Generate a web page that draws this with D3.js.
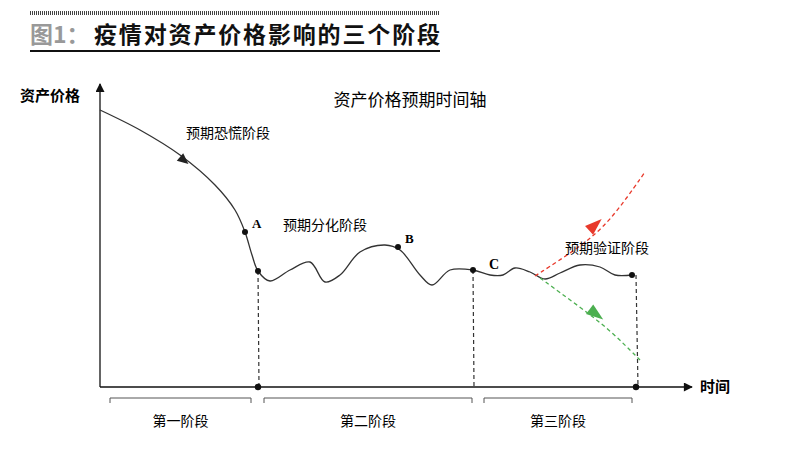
<!DOCTYPE html>
<html><head><meta charset="utf-8">
<script src="https://cdn.jsdelivr.net/npm/d3@7"></script>
<style>body{margin:0;background:#fff}text{font-family:"Noto Sans CJK SC",sans-serif}</style>
</head><body>
<svg id="chart" width="800" height="454"></svg>
<script>
// time (x) and price (y) in arbitrary units
const priceCurve = [[0,277],[40,257],[80,232],[115,202],[135,177],[145,155],[152,132],[158,116],[170,106],[190,117],[210,125],[225,105],[240,112],[260,135],[285,142],[300,137],[320,112],[332,102],[350,117],[373,117],[390,112],[403,112],[415,119],[430,115],[445,108],[460,114],[480,122],[500,120],[515,112],[532,112]];
const keyPoints = [[145,155,"A"],[158,116,""],[298,140,"B"],[373,117,""],[532,112,""]];
const redPath = [[435,111],[480,140],[510,165],[545,215]];
const greenPath = [[440,109],[480,80],[510,57],[540,27]];
const stages = [["第一阶段",10,151],["第二阶段",164,372],["第三阶段",384,532]];
const dividers = [[158,116],[373,117],[536,112]];
const phaseLabels = [["预期恐慌阶段",86,249],["预期分化阶段",183,157],["预期验证阶段",465,134]];

const svg = d3.select("#chart");
const x = d3.scaleLinear().domain([0,590]).range([100,690]);
const y = d3.scaleLinear().domain([0,300]).range([387,87]);

// title
svg.append("line").attr("x1",30).attr("x2",440).attr("y1",13).attr("y2",13)
  .attr("stroke","#444").attr("stroke-width",4).attr("stroke-dasharray","1,1");
svg.append("text").attr("x",30).attr("y",43).style("font-size","23px").style("font-weight","bold")
  .attr("fill","#999").text("图1：");
svg.append("text").attr("x",94).attr("y",43).attr("textLength",346).style("font-size","23px").style("font-weight","bold")
  .attr("fill","#111").text("疫情对资产价格影响的三个阶段");
svg.append("line").attr("x1",30).attr("x2",440).attr("y1",51).attr("y2",51).attr("stroke","#111").attr("stroke-width",2);

const defs = svg.append("defs");
function marker(id, color, w, h) {
  defs.append("marker").attr("id",id).attr("viewBox","0 0 10 10").attr("refX",9).attr("refY",5)
    .attr("markerWidth",w).attr("markerHeight",h).attr("orient","auto").attr("markerUnits","userSpaceOnUse")
    .append("path").attr("d","M0,0L10,5L0,10z").attr("fill",color);
}
marker("ax","#111",12,9);

// axes
svg.append("line").attr("x1",x(0)).attr("x2",x(0)).attr("y1",y(0)).attr("y2",y(303))
  .attr("stroke","#111").attr("stroke-width",1.3).attr("marker-end","url(#ax)");
svg.append("line").attr("x1",x(0)).attr("x2",x(592)).attr("y1",y(0)).attr("y2",y(0))
  .attr("stroke","#111").attr("stroke-width",1.3).attr("marker-end","url(#ax)");
svg.append("text").attr("x",20).attr("y",101).style("font-size","15px").style("font-weight","bold").text("资产价格");
svg.append("text").attr("x",700).attr("y",392).style("font-size","15px").style("font-weight","bold").text("时间");
svg.append("text").attr("x",410).attr("y",106).attr("text-anchor","middle").style("font-size","17px").text("资产价格预期时间轴");

// dashed dividers
dividers.forEach(d => {
  svg.append("line").attr("x1",x(d[0])).attr("x2",x(d[0]+ (d[0]>500?2:1))).attr("y1",y(d[1])).attr("y2",y(0))
    .attr("stroke","#333").attr("stroke-width",1.2).attr("stroke-dasharray","4,3");
});
[[158,0],[536,0]].forEach(d => svg.append("circle").attr("cx",x(d[0])).attr("cy",y(d[1])).attr("r",3.2).attr("fill","#111"));

// main curve
const line = d3.line().x(d => x(d[0])).y(d => y(d[1])).curve(d3.curveCatmullRom);
svg.append("path").datum(priceCurve).attr("d",line).attr("fill","none").attr("stroke","#333").attr("stroke-width",1.3);
keyPoints.forEach(d => {
  svg.append("circle").attr("cx",x(d[0])).attr("cy",y(d[1])).attr("r",3).attr("fill","#111");
  if (d[2]) svg.append("text").attr("x",x(d[0])+7).attr("y",y(d[1])-4)
    .style("font-family","Liberation Serif").style("font-weight","bold").style("font-size","13px").text(d[2]);
});
svg.append("text").attr("x",x(389)).attr("y",y(118)).style("font-family","Liberation Serif")
  .style("font-weight","bold").style("font-size","14px").text("C");
// arrow on descending curve
svg.append("path").attr("d","M0,-5L11,0L0,5z").attr("fill","#222")
  .attr("transform",`translate(${x(80)},${y(230)}) rotate(40)`);

// expectation branches
const smooth = d3.line().x(d => x(d[0])).y(d => y(d[1])).curve(d3.curveBasis);
svg.append("path").datum(redPath).attr("d",smooth).attr("fill","none")
  .attr("stroke","#e8392b").attr("stroke-width",1.3).attr("stroke-dasharray","4,3");
svg.append("path").datum(greenPath).attr("d",smooth).attr("fill","none")
  .attr("stroke","#4caf50").attr("stroke-width",1.3).attr("stroke-dasharray","4,3");
svg.append("path").attr("d","M-8,-6L9,0L-8,6z").attr("fill","#e8392b")
  .attr("transform",`translate(${x(495)},${y(162)}) rotate(-42)`);
svg.append("path").attr("d","M-8,-6L9,0L-8,6z").attr("fill","#4caf50")
  .attr("transform",`translate(${x(496)},${y(73)}) rotate(37)`);

// phase labels
phaseLabels.forEach(d => svg.append("text").attr("x",x(d[1])).attr("y",y(d[2])).style("font-size","14px").text(d[0]));

// stage brackets
stages.forEach(d => {
  const yy = 398;
  svg.append("path").attr("d",`M${x(d[1])},${yy+5}V${yy}H${x(d[2])}V${yy+5}`)
    .attr("fill","none").attr("stroke","#555").attr("stroke-width",1);
  svg.append("text").attr("x",(x(d[1])+x(d[2]))/2).attr("y",426).attr("text-anchor","middle")
    .style("font-size","14px").text(d[0]);
});
</script>
</body></html>
